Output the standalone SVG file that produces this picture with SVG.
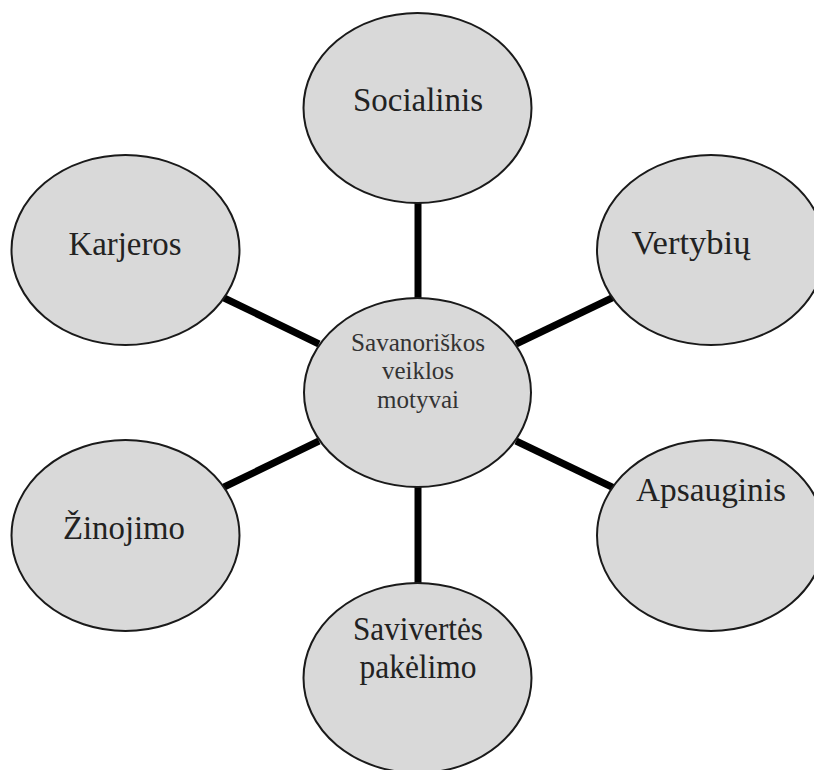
<svg xmlns="http://www.w3.org/2000/svg" width="814" height="770" viewBox="0 0 814 770">
<style>
.node ellipse{fill:#d9d9d9;stroke:#1a1a1a;stroke-width:2}
.lbl{font-family:"Liberation Serif",Tinos,"Times New Roman","DejaVu Serif",serif;font-size:33px;fill:#222;text-anchor:middle}
.clbl{font-family:"Liberation Serif",Tinos,"Times New Roman","DejaVu Serif",serif;font-size:25px;fill:#333;text-anchor:middle}
.conn line{stroke:#000;stroke-width:7}
</style>
<rect width="814" height="770" fill="#fff"/>
<g id="connectors" class="conn">
<line x1="418" y1="203" x2="418" y2="299"/>
<line x1="222" y1="297" x2="319" y2="344"/>
<line x1="614" y1="297" x2="516" y2="344"/>
<line x1="222" y1="488" x2="319" y2="441"/>
<line x1="614" y1="488" x2="516" y2="441"/>
<line x1="418" y1="486" x2="418" y2="584"/>
</g>
<g id="socialinis" class="node">
<ellipse cx="417.5" cy="108" rx="114" ry="95"/>
<text class="lbl" x="418" y="111" textLength="130" lengthAdjust="spacingAndGlyphs">Socialinis</text>
</g>
<g id="karjeros" class="node">
<ellipse cx="125.5" cy="250" rx="114" ry="95"/>
<text class="lbl" x="125" y="255" textLength="113" lengthAdjust="spacingAndGlyphs">Karjeros</text>
</g>
<g id="vertybiu" class="node">
<ellipse cx="711" cy="250" rx="114" ry="95"/>
<text class="lbl" x="691" y="254" textLength="119" lengthAdjust="spacingAndGlyphs">Vertybių</text>
</g>
<g id="zinojimo" class="node">
<ellipse cx="125.5" cy="535.5" rx="114" ry="95.5"/>
<text class="lbl" x="124" y="539" textLength="122" lengthAdjust="spacingAndGlyphs">Žinojimo</text>
</g>
<g id="apsauginis" class="node">
<ellipse cx="711" cy="535.5" rx="114" ry="95.5"/>
<text class="lbl" x="711" y="501" textLength="150" lengthAdjust="spacingAndGlyphs">Apsauginis</text>
</g>
<g id="saviverte" class="node">
<ellipse cx="417.5" cy="678" rx="114" ry="95"/>
<text class="lbl" x="418" y="640" textLength="130" lengthAdjust="spacingAndGlyphs">Savivertės</text>
<text class="lbl" x="418" y="678" textLength="117" lengthAdjust="spacingAndGlyphs">pakėlimo</text>
</g>
<g id="center" class="node">
<ellipse cx="417.5" cy="392.5" rx="113.5" ry="94.5"/>
<text class="clbl" x="418" y="351" textLength="134" lengthAdjust="spacingAndGlyphs">Savanoriškos</text>
<text class="clbl" x="418" y="379" textLength="72" lengthAdjust="spacingAndGlyphs">veiklos</text>
<text class="clbl" x="418" y="408" textLength="82" lengthAdjust="spacingAndGlyphs">motyvai</text>
</g>
</svg>
